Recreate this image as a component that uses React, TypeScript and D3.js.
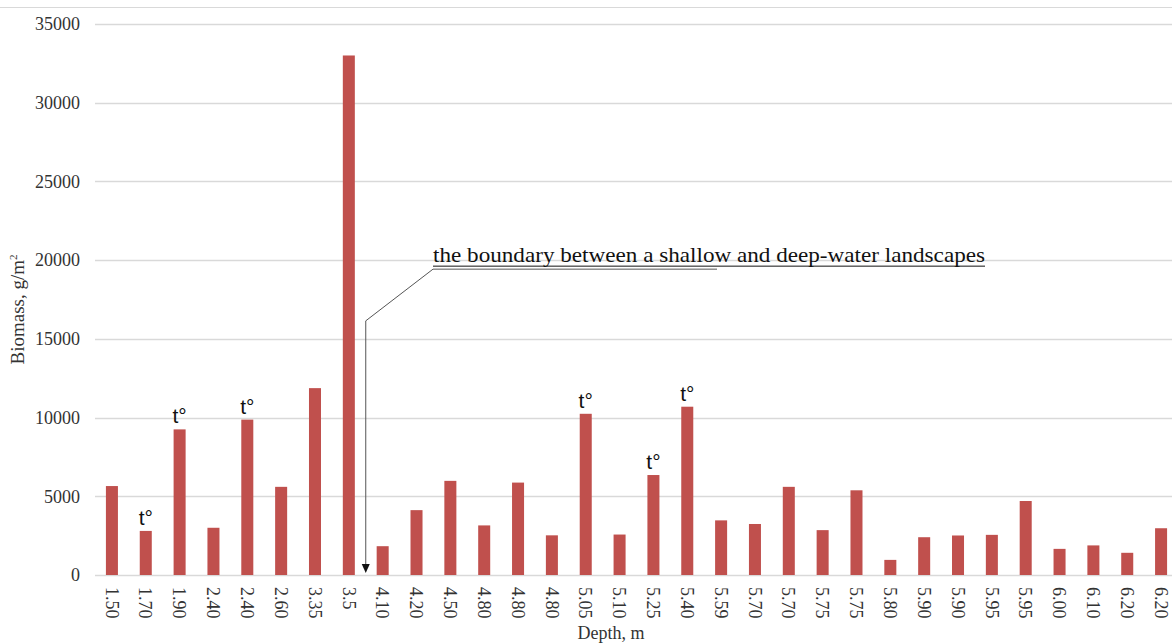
import React from "react";
import * as d3 from "d3";

const categories = ["1.50","1.70","1.90","2.40","2.40","2.60","3.35","3.5","4.10","4.20","4.50","4.80","4.80","4.80","5.05","5.10","5.25","5.40","5.59","5.70","5.70","5.75","5.75","5.80","5.90","5.90","5.95","5.95","6.00","6.10","6.20","6.20"];
const values = [5650,2800,9250,3000,9870,5600,11870,33000,1830,4120,5980,3150,5870,2520,10240,2570,6350,10690,3470,3240,5600,2850,5380,960,2400,2510,2550,4700,1660,1880,1410,2970];
const markers = ["","t°","t°","","t°","","","","","","","","","","t°","","t°","t°","","","","","","","","","","","","","",""];
const yTicks = [0,5000,10000,15000,20000,25000,30000,35000];
const yTitle = "Biomass, g/m";
const xTitle = "Depth, m";
const boundaryText = "the boundary between a shallow and deep-water landscapes";
const boundaryAfterIndex = 7;

const W = 1172, H = 644;
const serif = "'Liberation Serif', 'Times New Roman', serif";
const sans = "'Liberation Sans', Arial, sans-serif";

export default function App() {
  const x = d3.scaleBand<number>()
    .domain(categories.map((_, i) => i))
    .range([95, 1178])
    .paddingInner(0.645)
    .paddingOuter(0.3225);
  const y = d3.scaleLinear().domain([0, 35000]).range([575, 24]);
  const bw = x.bandwidth();
  const step = x.step();
  const bx = (x(boundaryAfterIndex) as number) + bw / 2 + step / 2;
  const textX = 433, textY = y(20000) + 2;
  const bendY = y(15000) - 18;

  return (
    <svg width={W} height={H} style={{ position: "absolute", left: 0, top: 0, background: "#fff" }}>
      <line x1={0} x2={W} y1={7.5} y2={7.5} stroke="#d9d9d9" strokeWidth={1} />
      {yTicks.map(t => (
        <g key={t}>
          <line x1={95} x2={W} y1={Math.round(y(t)) + 0.5} y2={Math.round(y(t)) + 0.5} stroke="#d9d9d9" strokeWidth={1.3} />
          <text x={80} y={y(t)} dy="0.35em" textAnchor="end" fontFamily={serif} fontSize={18} fill="#333">{t}</text>
        </g>
      ))}
      {values.map((v, i) => (
        <rect key={i} x={x(i)} y={y(v)} width={bw} height={y(0) - y(v)} fill="#C0504D" />
      ))}
      {markers.map((m, i) => m ? (
        <text key={"m" + i} x={(x(i) as number) + bw / 2} y={y(values[i]) - 6} textAnchor="middle" fontFamily={sans} fontSize={21} fill="#111">{m}</text>
      ) : null)}
      {categories.map((c, i) => (
        <text key={"c" + i} transform={`translate(${(x(i) as number) + bw / 2},587) rotate(90)`} dy="0.35em" textAnchor="start" fontFamily={serif} fontSize={18} fill="#333">{c}</text>
      ))}
      <text x={611} y={639} textAnchor="middle" fontFamily={serif} fontSize={18} fill="#333">{xTitle}</text>
      <text transform={`translate(24,${(y(15000)+y(20000))/2 + 10}) rotate(-90)`} textAnchor="middle" fontFamily={serif} fontSize={19} fill="#333">
        {yTitle}<tspan dy="-7" fontSize={11}>2</tspan>
      </text>
      <text x={textX} y={textY} fontFamily={serif} fontSize={22} fill="#111" textLength={552} lengthAdjust="spacingAndGlyphs">{boundaryText}</text>
      <line x1={textX} x2={textX + 552} y1={textY + 4} y2={textY + 4} stroke="#111" strokeWidth={1} />
      <line x1={textX} x2={717} y1={textY + 7} y2={textY + 7} stroke="#555" strokeWidth={1} />
      <polyline points={`${textX},${textY + 7} ${bx},${bendY} ${bx},${y(0) - 9}`} fill="none" stroke="#555" strokeWidth={1} />
      <path d={`M${bx - 4},${y(0) - 11} L${bx + 4},${y(0) - 11} L${bx},${y(0) - 2} Z`} fill="#111" />
    </svg>
  );
}
